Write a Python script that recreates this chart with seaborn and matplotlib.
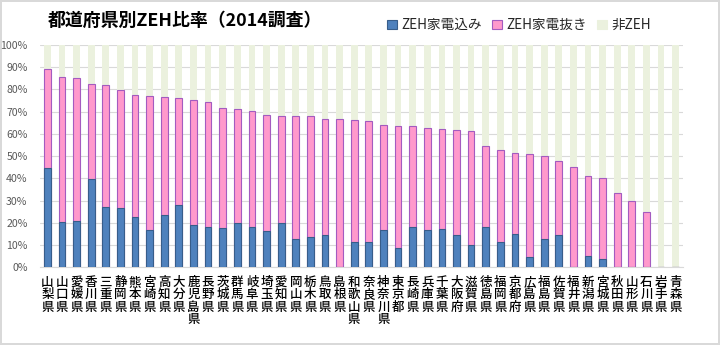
import matplotlib
matplotlib.use("Agg")
import matplotlib.pyplot as plt
from matplotlib.patches import Patch
import seaborn as sns
import pandas as pd

# 都道府県（ZEH比率の高い順）
prefectures = [
    "山梨県", "山口県", "愛媛県", "香川県", "三重県", "静岡県", "熊本県", "宮崎県",
    "高知県", "大分県", "鹿児島県", "長野県", "茨城県", "群馬県", "岐阜県", "埼玉県",
    "愛知県", "岡山県", "栃木県", "鳥取県", "島根県", "和歌山県", "奈良県", "神奈川県",
    "東京都", "長崎県", "兵庫県", "千葉県", "大阪府", "滋賀県", "徳島県", "福岡県",
    "京都府", "広島県", "福島県", "佐賀県", "福井県", "新潟県", "宮城県", "秋田県",
    "山形県", "石川県", "岩手県", "青森県",
]

# ZEH比率合計（%）
zeh_total = [
    89.1, 85.6, 85.0, 82.5, 82.0, 79.6, 77.7, 76.9,
    76.6, 76.2, 75.1, 74.5, 71.7, 71.4, 70.1, 68.7,
    68.2, 68.2, 68.2, 66.7, 66.7, 66.1, 66.0, 64.2,
    63.7, 63.7, 62.7, 62.1, 61.9, 61.5, 54.7, 52.9,
    51.6, 50.8, 49.9, 47.8, 45.1, 41.1, 40.0, 33.3,
    29.8, 25.0, 0.0, 0.0,
]

# うちZEH家電込み（%）
zeh_with_appliances = [
    44.5, 20.2, 20.8, 39.6, 27.0, 26.5, 22.5, 16.9,
    23.7, 28.2, 18.9, 18.0, 17.7, 19.8, 18.0, 16.3,
    19.9, 12.6, 13.8, 14.4, 0.0, 11.5, 11.5, 16.6,
    8.7, 18.1, 16.6, 17.4, 14.5, 9.9, 18.1, 11.2,
    15.0, 4.6, 12.6, 14.4, 0.0, 5.2, 3.6, 0.0,
    0.0, 0.0, 0.0, 0.0,
]

series_labels = ["ZEH家電込み", "ZEH家電抜き", "非ZEH"]

BLUE, BLUE_EDGE = "#4F81BD", "#385D8A"
PINK, PINK_EDGE = "#FF99CC", "#A35BC0"
GREEN = "#EBF1DE"

df = pd.DataFrame({
    "pref": prefectures,
    "with_app": zeh_with_appliances,
    "without_app": [t - w for t, w in zip(zeh_total, zeh_with_appliances)],
    "non_zeh": [100 - t for t in zeh_total],
})
df["zeh_top"] = df["with_app"] + df["without_app"]
df["all_top"] = df["zeh_top"] + df["non_zeh"]

sns.set_theme(style="white")
plt.rcParams["font.family"] = ["Noto Sans CJK JP", "DejaVu Sans"]

fig = plt.figure(figsize=(7.2, 3.45), dpi=100)
fig.patch.set_facecolor("white")
fig.patch.set_edgecolor("#D9D9D9")
fig.patch.set_linewidth(1.5)
ax = fig.add_axes([0.0556, 0.2252, 0.8930, 0.6444])

bw = 0.46
sns.barplot(data=df, x="pref", y="all_top", order=prefectures, color=GREEN,
            width=bw, saturation=1, linewidth=0, ax=ax, zorder=2)
sns.barplot(data=df, x="pref", y="zeh_top", order=prefectures, color=PINK,
            width=bw, saturation=1, edgecolor=PINK_EDGE, linewidth=0.8, ax=ax, zorder=3)
sns.barplot(data=df, x="pref", y="with_app", order=prefectures, color=BLUE,
            width=bw, saturation=1, edgecolor=BLUE_EDGE, linewidth=0.8, ax=ax, zorder=4)

ax.set_xlim(-0.5, len(prefectures) - 0.5)
ax.set_ylim(0, 100)
ax.set_yticks(range(0, 101, 10))
ax.set_yticklabels([f"{v}%" for v in range(0, 101, 10)], fontsize=7.6, color="#595959")
ax.yaxis.grid(True, color="#D9D9D9", linewidth=0.8, zorder=0)
ax.set_axisbelow(True)
ax.set_xticks(range(len(prefectures)))
ax.set_xticklabels(["\n".join(p) for p in prefectures], fontsize=9,
                   color="#000000", linespacing=0.95, va="top", fontweight="medium")
ax.tick_params(axis="x", length=0, pad=6)
ax.tick_params(axis="y", length=0, pad=9)
ax.set_xlabel("")
ax.set_ylabel("")
for side in ["left", "right", "top"]:
    ax.spines[side].set_visible(False)
ax.spines["bottom"].set_color("#D9D9D9")
ax.spines["bottom"].set_linewidth(0.8)

fig.text(0.066, 0.94, "都道府県別ZEH比率（2014調査）", fontsize=12.9,
         fontweight="bold", va="center", ha="left", color="#000000")

handles = [
    Patch(facecolor=BLUE, edgecolor=BLUE_EDGE, linewidth=0.8),
    Patch(facecolor=PINK, edgecolor=PINK_EDGE, linewidth=0.8),
    Patch(facecolor=GREEN, edgecolor=GREEN, linewidth=0.8),
]
fig.legend(handles, series_labels, loc="center left", bbox_to_anchor=(0.521, 0.927),
           ncol=3, frameon=False, fontsize=9.8, handlelength=0.7, handleheight=0.7,
           handletextpad=0.3, columnspacing=0.8)

fig.savefig("out.png", dpi=100)
